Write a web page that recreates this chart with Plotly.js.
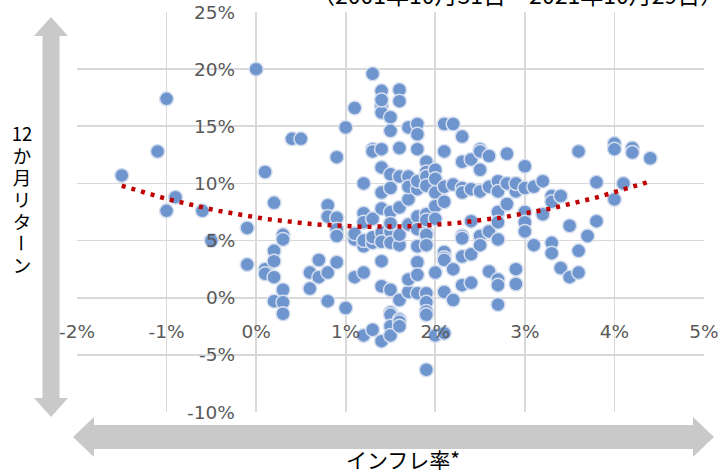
<!DOCTYPE html>
<html>
<head>
<meta charset="utf-8">
<script src="https://cdn.plot.ly/plotly-3.0.1.min.js"></script>
<style>html,body{margin:0;padding:0;background:#fff;}#chart{width:719px;height:470px;}</style>
</head>
<body>
<div id="chart"></div>
<script>
// ---- data ----
const inflation = [
-1.5,
-1.1,
-1.0,-1.0,
-0.9,
-0.6,
-0.5,
-0.1,-0.1,
0.0,
0.1,0.1,0.1,
0.2,0.2,0.2,0.2,0.2,
0.3,0.3,0.3,0.3,0.3,
0.4,
0.5,
0.6,0.6,
0.7,0.7,
0.8,0.8,0.8,0.8,
0.9,0.9,0.9,0.9,0.9,
1.0,1.0,
1.1,1.1,1.1,1.1,
1.2,1.2,1.2,1.2,1.2,1.2,1.2,
1.3,1.3,1.3,1.3,1.3,1.3,1.3,
1.4,1.4,1.4,1.4,1.4,1.4,1.4,1.4,1.4,1.4,1.4,1.4,1.4,
1.5,1.5,1.5,1.5,1.5,1.5,1.5,1.5,1.5,1.5,1.5,1.5,1.5,
1.6,1.6,1.6,1.6,1.6,1.6,1.6,1.6,1.6,1.6,1.6,
1.7,1.7,1.7,1.7,1.7,1.7,1.7,
1.8,1.8,1.8,1.8,1.8,1.8,1.8,1.8,1.8,1.8,1.8,
1.9,1.9,1.9,1.9,1.9,1.9,1.9,1.9,1.9,1.9,1.9,1.9,1.9,1.9,
2.0,2.0,2.0,2.0,2.0,2.0,2.0,
2.1,2.1,2.1,2.1,2.1,2.1,2.1,2.1,2.1,
2.2,2.2,2.2,2.2,
2.3,2.3,2.3,2.3,2.3,2.3,2.3,2.3,
2.4,2.4,2.4,2.4,2.4,
2.5,2.5,2.5,2.5,2.5,2.5,
2.6,2.6,2.6,2.6,
2.7,2.7,2.7,2.7,2.7,2.7,2.7,2.7,
2.8,2.8,2.8,
2.9,2.9,2.9,2.9,
3.0,3.0,3.0,3.0,3.0,
3.1,3.1,
3.2,3.2,
3.3,3.3,3.3,3.3,
3.4,3.4,
3.5,3.5,
3.6,3.6,3.6,
3.7,
3.8,3.8,
4.0,4.0,4.0,
4.1,
4.2,4.2,
4.4
];
const returns12m = [
10.7,
12.8,
17.4,7.6,
8.8,
7.6,
5.0,
6.1,2.9,
20.0,
11.0,2.5,2.1,
8.3,4.1,3.2,1.8,-0.3,
5.5,5.1,0.7,-0.4,-1.4,
13.9,
13.9,
2.2,0.8,
3.3,1.8,
8.1,7.1,2.2,-0.3,
12.3,7.0,6.0,5.4,3.1,
14.9,-0.9,
16.6,5.1,1.8,5.6,
10.0,7.4,6.6,4.5,2.2,-3.3,5.0,
19.6,13.0,12.8,4.8,-2.8,5.3,6.9,
18.1,16.8,16.2,13.0,11.4,9.2,5.7,4.9,3.2,1.0,-3.8,7.8,17.3,
15.8,14.6,9.6,7.5,5.8,4.8,0.7,-1.3,-1.5,-2.5,-3.3,6.5,10.8,
18.2,17.2,13.1,10.6,7.9,4.6,-0.2,-1.9,-2.1,-2.5,5.5,
14.9,10.6,8.6,0.5,1.6,6.4,9.7,
15.2,14.3,13.0,9.5,7.1,4.5,3.1,2.0,0.4,10.2,6.0,
11.9,11.0,7.3,5.7,5.5,4.6,0.4,-0.4,-1.2,-1.5,-6.3,10.6,9.8,6.8,
11.2,10.4,9.2,8.0,2.2,-3.3,6.9,
15.2,12.8,9.7,8.4,4.0,3.5,3.3,0.5,-3.1,
15.2,9.9,2.5,-0.2,
14.1,11.9,9.6,9.2,5.4,5.2,3.6,1.1,
12.1,6.7,3.8,1.3,9.5,
13.0,11.2,9.3,5.4,4.6,12.8,
12.4,9.7,5.8,2.3,
10.2,7.5,6.6,5.1,1.6,1.1,-0.6,9.3,
12.6,10.0,8.2,
9.3,2.5,1.2,10.0,
11.5,9.6,7.5,6.6,5.8,
9.7,4.6,
10.2,7.3,
8.9,8.4,4.8,3.9,
8.9,2.6,
6.3,1.8,
12.8,4.1,2.2,
5.4,
10.1,6.7,
13.5,13.0,8.6,
10.0,
13.1,12.7,
12.2
];
// 2nd-order polynomial trendline coefficients [c0, c1, c2]
const trendCoef = [7.02, -1.196, 0.436];
const xTickVals = [-2,-1,0,1,2,3,4,5];
const xTickText = ['-2%','-1%','0%','1%','2%','3%','4%','5%'];
const yTickVals = [-10,-5,0,5,10,15,20,25];
const yTickText = ['-10%','-5%','0%','5%','10%','15%','20%','25%'];
const yTitleChars = ['12','か','月','リ','タ','ー','ン'];
const xTitle = 'インフレ率*';
const periodText = '（2001年10月31日～2021年10月29日）';

// ---- trendline from coefficients over the data's x range ----
const xmin = Math.min(...inflation), xmax = Math.max(...inflation);
const trendX = [], trendY = [];
for (let i = 0; i <= 120; i++) {
  const x = xmin + (xmax - xmin) * i / 120;
  trendX.push(x);
  trendY.push(trendCoef[0] + trendCoef[1]*x + trendCoef[2]*x*x);
}

// ---- layout geometry (pixels) ----
const W = 719, H = 470;
const L = 77, R = 704, T = 12, B = 412;
const px = v => (v - L) / (R - L);
const py = v => (B - v) / (B - T);

const grey = '#C9C9C9';
const shapes = [];
// vertical double arrow
const vx = 51, vs = 8.5, vh = 17, vt = 17, vtb = 36, vb = 417, vbb = 398;
shapes.push({type:'path', xref:'paper', yref:'paper', fillcolor:grey, line:{width:0}, layer:'below',
  path:`M ${px(vx)} ${py(vt)} L ${px(vx+vh)} ${py(vtb)} L ${px(vx+vs)} ${py(vtb)} L ${px(vx+vs)} ${py(vbb)} L ${px(vx+vh)} ${py(vbb)} L ${px(vx)} ${py(vb)} L ${px(vx-vh)} ${py(vbb)} L ${px(vx-vs)} ${py(vbb)} L ${px(vx-vs)} ${py(vtb)} L ${px(vx-vh)} ${py(vtb)} Z`});
// horizontal double arrow
const hy = 437, hs = 12, hh = 20, hl = 73, hlb = 94, hr = 714, hrb = 693;
shapes.push({type:'path', xref:'paper', yref:'paper', fillcolor:grey, line:{width:0}, layer:'below',
  path:`M ${px(hl)} ${py(hy)} L ${px(hlb)} ${py(hy-hh)} L ${px(hlb)} ${py(hy-hs)} L ${px(hrb)} ${py(hy-hs)} L ${px(hrb)} ${py(hy-hh)} L ${px(hr)} ${py(hy)} L ${px(hrb)} ${py(hy+hh)} L ${px(hrb)} ${py(hy+hs)} L ${px(hlb)} ${py(hy+hs)} L ${px(hlb)} ${py(hy+hh)} Z`});

const cjk = '"Noto Sans CJK JP", "Noto Sans", sans-serif';
const tickFont = {family:'"DejaVu Sans", "Noto Sans", sans-serif', size:18.5, color:'#595959'};
const annotations = [];
// y tick labels, placed beside the vertical axis that crosses at inflation = 0
yTickVals.forEach((v, i) => {
  annotations.push({text:yTickText[i], xref:'x', yref:'y', x:-0.23, y:v,
    xanchor:'right', yanchor:'middle', showarrow:false, borderpad:0, font:tickFont});
});
yTitleChars.forEach((c, i) => {
  annotations.push({text:c, xref:'paper', yref:'paper', x:px(22), y:py(133 + 22*i),
    xanchor:'center', yanchor:'middle', showarrow:false, height:22, width:24,
    textangle: c === 'ー' ? 90 : 0,
    font:{family:cjk, size:18.5, color:'#000'}});
});
annotations.push({text:xTitle, xref:'paper', yref:'paper', x:px(403), y:py(459),
  xanchor:'center', yanchor:'middle', showarrow:false, font:{family:cjk, size:21, color:'#000'}});
annotations.push({text:periodText, xref:'paper', yref:'paper', x:px(517), y:py(-6),
  xanchor:'center', yanchor:'middle', showarrow:false, font:{family:cjk, size:23, color:'#000'}});

const data = [
  {type:'scatter', mode:'markers', x:inflation, y:returns12m,
   marker:{size:14, color:'#6F95CF', line:{color:'#D6DFEF', width:1.5}}, hoverinfo:'skip'},
  {type:'scatter', mode:'lines', x:trendX, y:trendY,
   line:{color:'#C00000', width:4.5, dash:'4px,6px'}, hoverinfo:'skip'}
];

const layout = {
  width:W, height:H,
  margin:{l:L, r:W-R, t:T, b:H-B, pad:0},
  paper_bgcolor:'#fff', plot_bgcolor:'#fff',
  showlegend:false,
  xaxis:{range:[-2,5], tickvals:xTickVals, ticktext:xTickText, showgrid:true,
    gridcolor:'#D9D9D9', gridwidth:1.6, zeroline:false, showline:false,
    anchor:'free', position:10/35, ticks:'outside', ticklen:17, tickcolor:'rgba(0,0,0,0)',
    ticklabeloverflow:'allow', tickfont:tickFont, fixedrange:true},
  yaxis:{range:[-10,25], tickvals:yTickVals, showticklabels:false, showgrid:true,
    gridcolor:'#D9D9D9', gridwidth:1.6, zeroline:false, showline:false,
    ticks:'', fixedrange:true},
  shapes:shapes,
  annotations:annotations
};

Plotly.newPlot('chart', data, layout, {displayModeBar:false, staticPlot:true});
</script>
</body>
</html>
